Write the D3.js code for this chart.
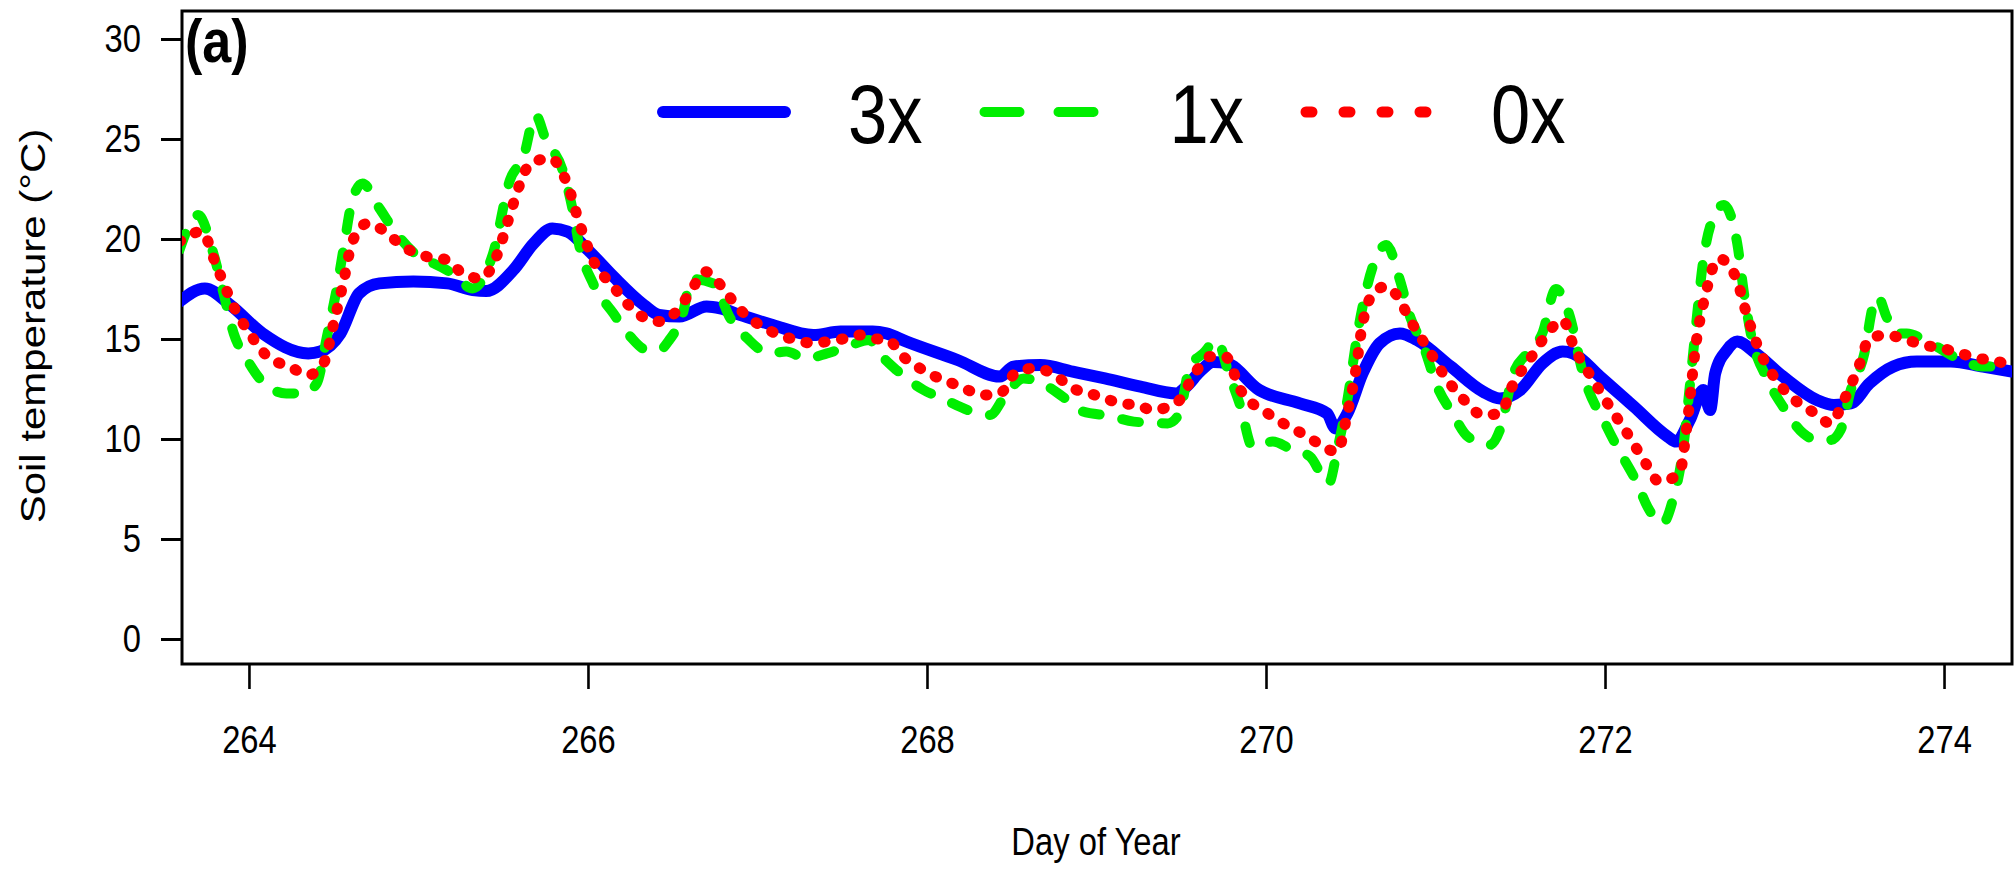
<!DOCTYPE html>
<html>
<head>
<meta charset="utf-8">
<script src="https://cdn.jsdelivr.net/npm/d3@7"></script>
<style>
  body { margin: 0; background: #fff; }
  text { font-family: "Liberation Sans", Arial, sans-serif; fill: #000; }
</style>
</head>
<body>
<div id="grafico"></div>
<script>
// dados (dia do ano, temperatura do solo)
const dias3x = [263.59, 263.74, 263.89, 264.08, 264.35, 264.42, 264.54, 264.65, 264.77, 264.97, 265.17, 265.32, 265.40, 265.56, 265.68, 265.79, 265.88, 266.00, 266.15, 266.33, 266.42, 266.54, 266.70, 266.78, 266.90, 267.09, 267.33, 267.49, 267.68, 267.76, 267.88, 268.18, 268.43, 268.51, 268.67, 268.86, 269.05, 269.26, 269.47, 269.53, 269.61, 269.69, 269.77, 269.96, 270.20, 270.36, 270.41, 270.48, 270.57, 270.67, 270.79, 270.89, 271.09, 271.28, 271.38, 271.50, 271.63, 271.75, 271.81, 271.97, 272.17, 272.37, 272.42, 272.50, 272.58, 272.62, 272.65, 272.72, 272.78, 272.89, 273.05, 273.25, 273.35, 273.45, 273.56, 273.70, 273.84, 274.04, 274.23, 274.40];
const temp3x = [16.87, 17.53, 16.7, 15.28, 14.28, 14.37, 15.28, 17.28, 17.78, 17.87, 17.78, 17.45, 17.4, 18.45, 19.78, 20.53, 20.37, 19.45, 18.12, 16.7, 16.2, 16.12, 16.62, 16.53, 16.2, 15.7, 15.2, 15.37, 15.37, 15.28, 14.87, 13.95, 13.12, 13.62, 13.7, 13.37, 13.03, 12.62, 12.28, 12.62, 13.37, 13.85, 13.78, 12.45, 11.78, 11.28, 10.53, 11.28, 13.28, 14.78, 15.28, 14.95, 13.62, 12.37, 12.03, 12.45, 13.78, 14.37, 14.28, 13.12, 11.62, 10.12, 9.87, 10.95, 12.45, 11.45, 13.28, 14.45, 14.87, 14.28, 13.12, 11.95, 11.7, 11.78, 12.78, 13.62, 13.87, 13.87, 13.62, 13.37];

const dias1x = [263.59, 263.70, 263.79, 263.85, 263.91, 263.99, 264.11, 264.22, 264.32, 264.40, 264.46, 264.52, 264.56, 264.61, 264.67, 264.77, 264.87, 264.99, 265.09, 265.20, 265.32, 265.44, 265.54, 265.62, 265.69, 265.75, 265.85, 265.91, 265.95, 266.03, 266.15, 266.25, 266.35, 266.42, 266.48, 266.56, 266.61, 266.74, 266.84, 266.94, 267.07, 267.17, 267.29, 267.41, 267.53, 267.66, 267.72, 267.82, 267.98, 268.09, 268.24, 268.37, 268.47, 268.57, 268.68, 268.80, 268.92, 269.08, 269.22, 269.42, 269.49, 269.55, 269.63, 269.71, 269.78, 269.85, 269.92, 270.04, 270.14, 270.26, 270.37, 270.42, 270.48, 270.54, 270.57, 270.63, 270.71, 270.79, 270.85, 270.93, 271.01, 271.10, 271.19, 271.32, 271.38, 271.46, 271.54, 271.63, 271.71, 271.79, 271.87, 272.01, 272.07, 272.19, 272.25, 272.34, 272.40, 272.46, 272.50, 272.54, 272.58, 272.62, 272.70, 272.78, 272.82, 272.86, 272.96, 273.05, 273.17, 273.25, 273.33, 273.39, 273.45, 273.53, 273.58, 273.61, 273.66, 273.72, 273.78, 273.92, 274.10, 274.23, 274.40];
const temp1x = [19.45, 21.2, 19.28, 17.28, 15.28, 13.95, 12.62, 12.28, 12.28, 12.78, 15.12, 17.62, 19.62, 21.95, 22.78, 21.53, 20.28, 19.2, 18.78, 18.28, 17.53, 19.28, 22.95, 24.12, 26.2, 25.0, 23.45, 21.45, 19.62, 17.78, 16.28, 15.12, 14.45, 14.45, 14.95, 16.28, 18.0, 17.78, 16.03, 15.03, 14.28, 14.37, 14.03, 14.28, 14.62, 14.95, 14.28, 13.45, 12.45, 12.03, 11.45, 11.2, 12.28, 13.03, 12.78, 12.12, 11.37, 11.15, 10.87, 10.78, 11.28, 13.62, 14.28, 14.95, 13.28, 11.62, 9.62, 9.87, 9.53, 9.12, 7.78, 9.45, 11.95, 15.28, 16.62, 18.62, 19.7, 17.95, 16.12, 14.62, 12.62, 11.28, 10.12, 9.7, 10.45, 13.28, 14.28, 15.28, 17.5, 16.2, 13.28, 10.62, 9.62, 7.78, 6.62, 5.78, 6.95, 9.45, 12.62, 15.95, 18.95, 20.62, 21.7, 19.78, 17.28, 15.28, 12.95, 11.62, 10.28, 9.95, 9.95, 10.45, 12.45, 14.28, 16.62, 17.12, 16.12, 15.28, 15.28, 14.78, 13.95, 13.62, 13.62];

const dias0x = [263.59, 263.72, 263.81, 263.91, 264.01, 264.11, 264.24, 264.35, 264.44, 264.50, 264.56, 264.61, 264.70, 264.79, 264.91, 265.05, 265.17, 265.26, 265.37, 265.46, 265.53, 265.60, 265.66, 265.78, 265.88, 265.95, 266.03, 266.15, 266.23, 266.32, 266.41, 266.50, 266.60, 266.69, 266.79, 266.88, 266.97, 267.13, 267.23, 267.33, 267.41, 267.52, 267.60, 267.68, 267.77, 267.86, 267.96, 268.05, 268.15, 268.24, 268.33, 268.43, 268.53, 268.63, 268.74, 268.86, 268.96, 269.05, 269.14, 269.24, 269.33, 269.48, 269.58, 269.67, 269.76, 269.85, 270.01, 270.23, 270.42, 270.48, 270.53, 270.57, 270.65, 270.71, 270.77, 270.85, 270.96, 271.07, 271.16, 271.28, 271.38, 271.46, 271.56, 271.66, 271.75, 271.82, 271.93, 272.04, 272.15, 272.24, 272.32, 272.44, 272.48, 272.54, 272.59, 272.67, 272.77, 272.84, 272.91, 273.01, 273.12, 273.24, 273.33, 273.41, 273.50, 273.56, 273.66, 273.78, 273.88, 273.99, 274.10, 274.20, 274.29, 274.39];
const temp0x = [19.87, 20.37, 18.62, 16.62, 15.2, 14.12, 13.62, 13.2, 13.78, 15.78, 17.95, 19.87, 20.78, 20.45, 19.62, 19.12, 18.95, 18.28, 18.03, 19.12, 20.95, 22.78, 23.78, 24.03, 22.7, 20.78, 18.95, 17.62, 16.78, 16.12, 15.87, 16.2, 17.28, 18.37, 17.62, 16.62, 15.95, 15.2, 14.95, 14.78, 14.87, 15.03, 15.2, 15.03, 14.95, 14.12, 13.53, 13.12, 12.78, 12.45, 12.2, 12.28, 13.37, 13.53, 13.28, 12.53, 12.28, 12.03, 11.78, 11.7, 11.45, 11.87, 13.28, 14.12, 14.12, 12.45, 11.28, 10.2, 9.37, 11.28, 13.45, 15.78, 17.45, 17.62, 17.2, 15.95, 14.45, 12.95, 12.03, 11.2, 11.28, 12.78, 14.03, 15.28, 15.95, 14.53, 12.95, 11.45, 10.03, 8.78, 7.87, 8.28, 10.45, 14.95, 17.12, 19.03, 18.12, 16.12, 14.45, 12.95, 11.95, 11.28, 10.78, 11.95, 13.7, 15.03, 15.2, 14.95, 14.7, 14.53, 14.28, 14.03, 13.95, 13.62];

const ticksX = [264, 266, 268, 270, 272, 274];
const ticksY = [0, 5, 10, 15, 20, 25, 30];
const rotulos = ['3x', '1x', '0x'];
const cores = ['#0000ff', '#00ee00', '#ff0000'];

// Configurações do gráfico
const largura = 2016;
const altura = 869;
const area = { left: 182, right: 2012, top: 11, bottom: 664 };
const aperto = 0.84; // texto estreito, como no original

const svg = d3
  .select('#grafico')
  .append('svg')
  .attr('width', largura)
  .attr('height', altura);

const x = d3.scaleLinear().domain([263.605, 274.401]).range([area.left, area.right]);
const y = d3.scaleLinear().domain([-1.25, 31.4]).range([area.bottom, area.top]);

// Eixo X
const eixoX = svg
  .append('g')
  .attr('transform', `translate(0,${area.bottom})`)
  .call(d3.axisBottom(x).tickValues(ticksX).tickFormat(d3.format('d')).tickSize(25).tickSizeOuter(0).tickPadding(36));
eixoX.select('.domain').remove();
eixoX.selectAll('line').attr('stroke', '#000').attr('stroke-width', 2.6);
eixoX.selectAll('text')
  .attr('font-size', 39)
  .attr('transform', `scale(${aperto},1)`);

// Eixo Y
const eixoY = svg
  .append('g')
  .attr('transform', `translate(${area.left},0)`)
  .call(d3.axisLeft(y).tickValues(ticksY).tickSize(21).tickSizeOuter(0).tickPadding(20));
eixoY.select('.domain').remove();
eixoY.selectAll('line').attr('stroke', '#000').attr('stroke-width', 3);
eixoY.selectAll('text')
  .attr('font-size', 39)
  .attr('x', -41 / aperto)
  .attr('transform', `scale(${aperto},1)`);

// Caixa
svg
  .append('rect')
  .attr('x', area.left)
  .attr('y', area.top)
  .attr('width', area.right - area.left)
  .attr('height', area.bottom - area.top)
  .attr('fill', 'none')
  .attr('stroke', '#000')
  .attr('stroke-width', 3);

svg.append('clipPath').attr('id', 'recorte')
  .append('rect')
  .attr('x', area.left)
  .attr('y', area.top)
  .attr('width', area.right - area.left)
  .attr('height', area.bottom - area.top);

const linha = d3
  .line()
  .x((d) => x(d[0]))
  .y((d) => y(d[1]))
  .curve(d3.curveMonotoneX);

const series = [
  { dias: dias3x, temp: temp3x, cor: cores[0], w: 12, dash: null },
  { dias: dias1x, temp: temp1x, cor: cores[1], w: 10, dash: '17,23' },
  { dias: dias0x, temp: temp0x, cor: cores[2], w: 11, dash: '1.5,16.5' },
];

const gLinhas = svg.append('g').attr('clip-path', 'url(#recorte)');
series.forEach((s) => {
  const pts = s.dias.map((d, i) => [d, s.temp[i]]);
  gLinhas
    .append('path')
    .datum(pts)
    .attr('d', linha)
    .attr('fill', 'none')
    .attr('stroke', s.cor)
    .attr('stroke-width', s.w)
    .attr('stroke-linecap', 'round')
    .attr('stroke-linejoin', 'round')
    .attr('stroke-dasharray', s.dash);
});

// Legenda
const legDash = [null, '35,39', '6,32'];
const legW = [12, 10, 11];
rotulos.forEach((r, i) => {
  const x0 = 657 + i * 321.5;
  svg
    .append('line')
    .attr('x1', x0 + 6)
    .attr('x2', x0 + 128)
    .attr('y1', 112)
    .attr('y2', 112)
    .attr('stroke', cores[i])
    .attr('stroke-width', legW[i])
    .attr('stroke-linecap', 'round')
    .attr('stroke-dasharray', legDash[i]);
  svg
    .append('text')
    .attr('transform', `translate(${x0 + 191},143) scale(${aperto},1)`)
    .attr('font-size', 84)
    .text(r);
});

// Rótulos
svg
  .append('text')
  .attr('transform', `translate(185,62) scale(${aperto},1)`)
  .attr('font-size', 62)
  .attr('font-weight', 'bold')
  .text('(a)');

svg
  .append('text')
  .attr('transform', `translate(1096,855) scale(${aperto},1)`)
  .attr('text-anchor', 'middle')
  .attr('font-size', 39)
  .text('Day of Year');

svg
  .append('text')
  .attr('transform', `translate(45,326) rotate(-90) scale(1,${aperto})`)
  .attr('text-anchor', 'middle')
  .attr('font-size', 42)
  .text('Soil temperature (°C)');
</script>
</body>
</html>
